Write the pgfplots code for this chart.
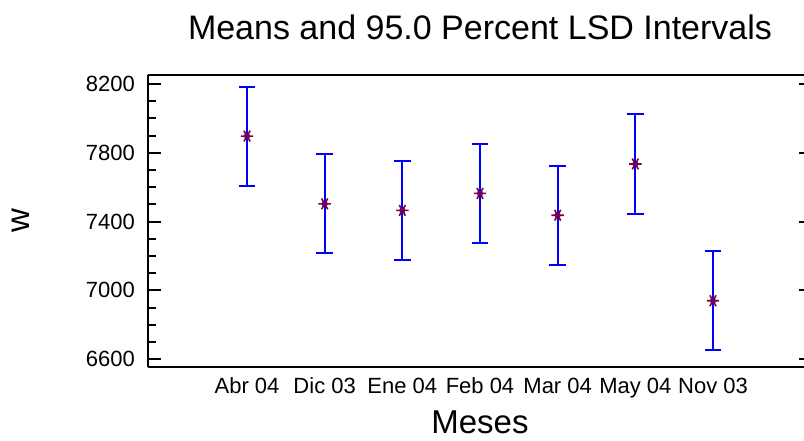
\documentclass[border=0pt]{standalone}
\usepackage{pgfplots}
\pgfplotsset{compat=1.18}
\usepackage{fontspec}
\setmainfont{Liberation Sans}
\definecolor{barblue}{RGB}{0,0,255}
\definecolor{meanred}{RGB}{128,0,64}
\pgfplotsset{
  common/.style={
    scale only axis,
    width=664pt, height=292pt,
    xmin=-1.275, xmax=7.275,
    ymin=6555, ymax=8252,
    ytick={6600,7000,7400,7800,8200},
    minor ytick={6700,6800,6900,7100,7200,7300,7500,7600,7700,7900,8000,8100},
    major tick length=13.5pt,
    minor tick length=8pt,
    y tick style={line width=2pt, black},
    tick align=inside,
    clip=false,
  }
}
\begin{document}
\begin{tikzpicture}
\begin{pgfinterruptboundingbox}
\clip (-148pt,-74pt) rectangle (656pt,367pt);
\begin{axis}[
  common,
  axis x line*=box, axis y line*=left,
  xtick={0,1,2,3,4,5,6},
  xticklabels={Abr 04,Dic 03,Ene 04,Feb 04,Mar 04,May 04,Nov 03},
  x tick style={draw=none},
  axis line style={line width=2.5pt},
  /pgf/number format/assume math mode=true,
  yticklabel={\pgfmathprintnumber[fixed,1000 sep={}]{\tick}},
  xticklabel style={font=\fontsize{22}{24}\selectfont, anchor=base, inner sep=0pt, yshift=-26.3pt},
  yticklabel style={font=\fontsize{22}{24}\selectfont, anchor=east, inner sep=0pt, xshift=-13pt},
]
\addplot[color=barblue, line width=2pt, only marks, mark=none,
  error bars/.cd, y dir=both, y explicit,
  error bar style={line width=2pt, color=barblue, solid},
  error mark options={color=barblue, line width=2pt, mark size=8.3pt, rotate=90}]
  coordinates {
  (0,7897) +- (0,288)
  (1,7503) +- (0,288)
  (2,7465) +- (0,288)
  (3,7564) +- (0,288)
  (4,7437) +- (0,288)
  (5,7735) +- (0,288)
  (6,6940) +- (0,288)
  };
\addplot[only marks, mark=asterisk, mark size=6.2pt, mark options={color=meanred, line width=1.6pt, rotate=90}]
  coordinates {
  (0,7897) (1,7503) (2,7465) (3,7564) (4,7437) (5,7735) (6,6940)
  };
\end{axis}
\begin{axis}[
  common,
  axis x line=none, axis y line*=right,
  y axis line style={draw=none},
  yticklabels={},
]
\addplot[draw=none, mark=none] coordinates {(0,7000)};
\end{axis}
\node[anchor=base, inner sep=0pt, font=\fontsize{34}{36}\selectfont] at (332pt,327pt) {Means and 95.0 Percent LSD Intervals};
\node[anchor=base, inner sep=0pt, font=\fontsize{33}{35}\selectfont] at (332pt,-66.5pt) {Meses};
\node[rotate=90, inner sep=0pt, font=\fontsize{33}{35}\selectfont] at (-127pt,146pt) {w};
\end{pgfinterruptboundingbox}
\path[use as bounding box] (-148pt,-74pt) rectangle (656pt,367pt);
\end{tikzpicture}
\end{document}
